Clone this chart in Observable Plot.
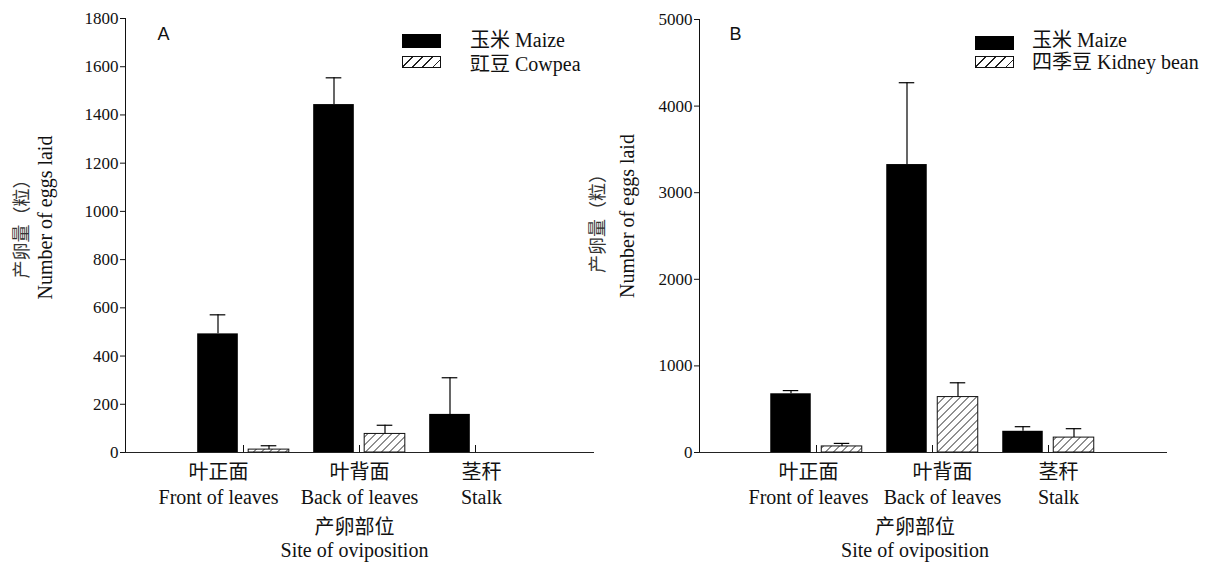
<!DOCTYPE html>
<html><head><meta charset="utf-8">
<script src="https://cdn.jsdelivr.net/npm/d3@7"></script>
<script src="https://cdn.jsdelivr.net/npm/@observablehq/plot@0.6"></script>
<style>
html,body{margin:0;padding:0;background:#fff;}
#wrap{position:relative;width:1209px;height:563px;overflow:hidden;background:#fff;}
.panel{position:absolute;top:0;}
svg.panel [aria-label="y-axis tick label"], svg.panel [aria-label="y-axis tick label"] text{font-family:"Liberation Serif",serif !important;font-size:17px !important;}
.lg{position:absolute;font-family:"Liberation Serif","Noto Sans CJK SC",serif;font-size:20px;color:#111;line-height:24px;white-space:nowrap;}
.sw{position:absolute;width:39px;box-sizing:border-box;}
.solid{background:#000;height:14px;}
.hatch{height:12px;border:1px solid #111;background:repeating-linear-gradient(135deg,#fff 0 6px,#222 6px 7.2px);}
</style></head><body>
<div id="wrap"></div>
<script>
// ---------- data ----------
const sites = ["front", "back", "stalk"];
const siteZh = ["叶正面", "叶背面", "茎秆"];
const siteEn = ["Front of leaves", "Back of leaves", "Stalk"];

const seriesA = ["玉米 Maize", "豇豆 Cowpea"];
const maizeA = [492, 1443, 158];
const maizeErrA = [79, 111, 152];
const cowpeaA = [12, 77, 0];
const cowpeaErrA = [16, 36, 0];
const yTicksA = [0, 200, 400, 600, 800, 1000, 1200, 1400, 1600, 1800];

const seriesB = ["玉米 Maize", "四季豆 Kidney bean"];
const maizeB = [678, 3325, 245];
const maizeErrB = [37, 945, 53];
const beanB = [70, 640, 172];
const beanErrB = [35, 165, 103];
const yTicksB = [0, 1000, 2000, 3000, 4000, 5000];

const yLabelZh = "产卵量（粒）";
const yLabelEn = "Number of eggs laid";
const xTitleZh = "产卵部位";
const xTitleEn = "Site of oviposition";

// ---------- drawing ----------
const serif = '"Liberation Serif", "Noto Sans CJK SC", serif';
const sans = '"Liberation Sans", Arial, sans-serif';
const H = 563;
const SVGNS = "http://www.w3.org/2000/svg";

function makePanel(cfg) {
  const {left, width, marginLeft, marginRight, marginTop, xRange, yMax, yTicks,
         s1, e1, s2, e2, letter, letterDx, letterDy, labelShift, ylab, xtitleDx, hatchId} = cfg;
  const marginBottom = H - 452;
  const frameH = H - marginTop - marginBottom;
  const bw = (xRange[1] - xRange[0]) / sites.length;
  const barW = 41, gap = 10, off = (barW + gap) / 2, capHalf = 8;
  const barInset = (bw - barW) / 2, capInset = bw / 2 - capHalf;
  const d1 = sites.map((s, i) => ({site: s, v: s1[i], e: e1[i]}));
  const d2 = sites.map((s, i) => ({site: s, v: s2[i], e: e2[i]}));
  const series = [
    {d: d1, dx: -off, opts: {fill: "#000"}},
    {d: d2, dx: off, opts: {fill: `url(#${hatchId})`, stroke: "#111", strokeWidth: 1}}
  ];
  const marks = [];
  for (const s of series) {
    marks.push(Plot.barY(s.d.filter(r => r.v > 0), {x: "site", y: "v", dx: s.dx, insetLeft: barInset, insetRight: barInset, ...s.opts}));
  }
  for (const s of series) {
    const de = s.d.filter(r => r.e > 0);
    marks.push(Plot.ruleX(de, {x: "site", y1: "v", y2: r => r.v + r.e, dx: s.dx, stroke: "#000", strokeWidth: 1.2}));
    marks.push(Plot.tickY(de, {x: "site", y: r => r.v + r.e, dx: s.dx, insetLeft: capInset, insetRight: capInset, stroke: "#000", strokeWidth: 1.2}));
  }
  // group ticks pointing up
  marks.push(Plot.tickX(sites, {x: d => d, insetTop: frameH - 7, stroke: "#111", strokeWidth: 1}));
  // axis lines
  marks.push(Plot.frame({anchor: "left", stroke: "#111"}));
  marks.push(Plot.frame({anchor: "bottom", stroke: "#222"}));
  // y ticks
  marks.push(Plot.axisY({ticks: yTicks, tickSize: 5, tickPadding: 2, tickFormat: d => String(d), fontSize: 17, fontFamily: serif, label: null, stroke: "#111"}));
  // x category labels
  sites.forEach((s, i) => {
    marks.push(Plot.axisX({ticks: [s], tickSize: 0, tickPadding: 12, dx: labelShift[i], tickFormat: () => siteZh[i], fontSize: 20, fontFamily: serif, label: null}));
    marks.push(Plot.axisX({ticks: [s], tickSize: 0, tickPadding: 37, dx: labelShift[i], tickFormat: () => siteEn[i], fontSize: 20, fontFamily: serif, label: null}));
  });
  // axis titles
  marks.push(Plot.text([xTitleZh], {text: d => d, frameAnchor: "bottom", dy: 75, dx: xtitleDx, lineAnchor: "middle", fontSize: 20, fontFamily: serif}));
  marks.push(Plot.text([xTitleEn], {text: d => d, frameAnchor: "bottom", dy: 98, dx: xtitleDx, lineAnchor: "middle", fontSize: 20, fontFamily: serif}));
  marks.push(Plot.text([yLabelZh], {text: d => d, frameAnchor: "left", rotate: -90, dx: ylab.zhDx, dy: ylab.zhDy, textAnchor: "middle", lineAnchor: "middle", fontSize: 18, fontFamily: serif, fill: "#333"}));
  marks.push(Plot.text([yLabelEn], {text: d => d, frameAnchor: "left", rotate: -90, dx: ylab.enDx, dy: ylab.enDy, textAnchor: "middle", lineAnchor: "middle", fontSize: 20, fontFamily: serif}));
  // panel letter
  marks.push(Plot.text([letter], {text: d => d, frameAnchor: "top-left", dx: letterDx, dy: letterDy, textAnchor: "start", lineAnchor: "middle", fontSize: 18, fontFamily: sans}));

  const svg = Plot.plot({
    width, height: H, marginLeft, marginRight, marginTop, marginBottom,
    style: {background: "transparent", fontFamily: serif, color: "#111", overflow: "visible"},
    x: {domain: sites, range: xRange, padding: 0, axis: null},
    y: {domain: [0, yMax], axis: null},
    marks
  });
  // hatch pattern
  const defs = document.createElementNS(SVGNS, "defs");
  const pat = document.createElementNS(SVGNS, "pattern");
  pat.setAttribute("id", hatchId);
  pat.setAttribute("patternUnits", "userSpaceOnUse");
  pat.setAttribute("width", "8");
  pat.setAttribute("height", "8");
  const bg = document.createElementNS(SVGNS, "rect");
  bg.setAttribute("width", "8"); bg.setAttribute("height", "8"); bg.setAttribute("fill", "#fff");
  const p = document.createElementNS(SVGNS, "path");
  p.setAttribute("d", "M0,8L8,0M-2,2L2,-2M6,10L10,6");
  p.setAttribute("stroke", "#222");
  p.setAttribute("stroke-width", "1");
  pat.appendChild(bg); pat.appendChild(p); defs.appendChild(pat);
  svg.insertBefore(defs, svg.firstChild);
  svg.classList.add("panel");
  svg.style.left = left + "px";
  return svg;
}

function makeLegend(names, swLeft, textLeft, swTops, textCenters) {
  const frag = document.createDocumentFragment();
  names.forEach((n, i) => {
    const sw = document.createElement("div");
    sw.className = "sw " + (i === 0 ? "solid" : "hatch");
    sw.style.left = swLeft + "px";
    sw.style.top = swTops[i] + "px";
    const t = document.createElement("div");
    t.className = "lg";
    t.textContent = n;
    t.style.left = textLeft + "px";
    t.style.top = (textCenters[i] - 12) + "px";
    frag.appendChild(sw); frag.appendChild(t);
  });
  return frag;
}

const wrap = document.getElementById("wrap");
wrap.appendChild(makePanel({
  left: 0, width: 594, marginLeft: 125, marginRight: 1, marginTop: 18,
  xRange: [184.8, 533.9], yMax: 1800, yTicks: yTicksA,
  s1: maizeA, e1: maizeErrA, s2: cowpeaA, e2: cowpeaErrA,
  letter: "A", letterDx: 32, letterDy: 16, labelShift: [-25, 0, 6],
  ylab: {zhDx: -103, zhDy: -11, enDx: -80, enDy: -18}, xtitleDx: -5, hatchId: "hatchA"
}));
wrap.appendChild(makePanel({
  left: 588, width: 621, marginLeft: 111, marginRight: 43, marginTop: 19,
  xRange: [169.25, 518.75], yMax: 5000, yTicks: yTicksB,
  s1: maizeB, e1: maizeErrB, s2: beanB, e2: beanErrB,
  letter: "B", letterDx: 30, letterDy: 15, labelShift: [-8, 10, 10],
  ylab: {zhDx: -101, zhDy: -17, enDx: -72, enDy: -20}, xtitleDx: -18, hatchId: "hatchB"
}));
wrap.appendChild(makeLegend(seriesA, 402, 470, [34, 56], [40, 64]));
wrap.appendChild(makeLegend(seriesB, 975, 1032, [36, 56], [40, 62]));
</script>
</body></html>
